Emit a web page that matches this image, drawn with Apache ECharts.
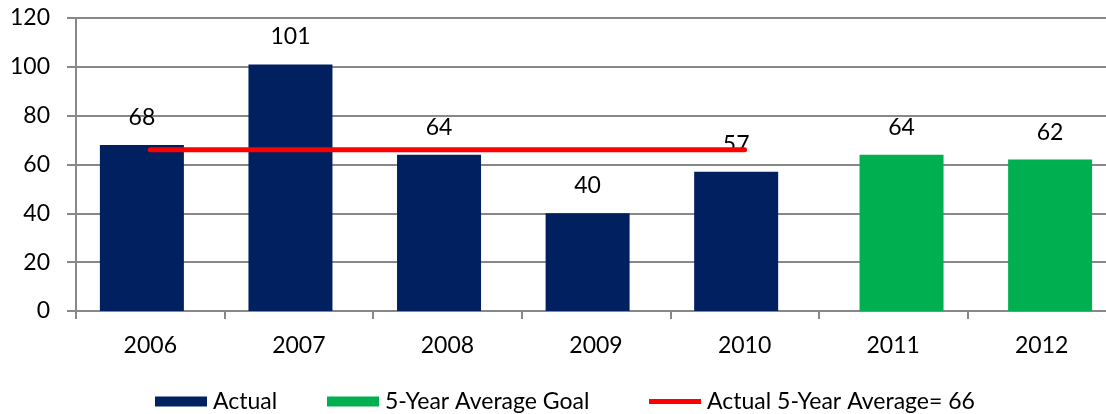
<!DOCTYPE html>
<html><head><meta charset="utf-8">
<script src="https://cdn.jsdelivr.net/npm/echarts@6/dist/echarts.min.js"></script>
<style>html,body{margin:0;padding:0;background:#fff}#c{width:1106px;height:414px}</style>
</head><body><div id="c"></div>
<script>
const categories = ['2006','2007','2008','2009','2010','2011','2012'];
const actualValues = [68, 101, 64, 40, 57, null, null];
const goalValues = [null, null, null, null, null, 64, 62];
const avgValues = [66, 66, 66, 66, 66, null, null];
const yTicks = {min: 0, max: 120, interval: 20};
const seriesNames = ['Actual', '5-Year Average Goal', 'Actual 5-Year Average= 66'];

const font = 'Lato';
const fs = 23;
const chart = echarts.init(document.getElementById('c'), null, {renderer: 'canvas'});
const labelCfg = {show: true, position: 'top', distance: 16, color: '#000', fontFamily: font, fontSize: fs};
const legendBase = {top: 390, padding: 0, itemWidth: 52, itemHeight: 10,
  textStyle: {fontFamily: font, fontSize: fs, color: '#000', padding: [0,0,0,1]}};
chart.setOption({
  animation: false,
  grid: {left: 76, right: -10, top: 18, bottom: 103, containLabel: false, outerBoundsMode: 'none'},
  legend: [
    Object.assign({left: 155, data: [{name: seriesNames[0], icon: 'rect'}]}, legendBase),
    Object.assign({left: 327, data: [{name: seriesNames[1], icon: 'rect'}]}, legendBase),
    Object.assign({left: 649, data: [{name: seriesNames[2], icon: 'path://M0,0 L54,0 L54,5 L0,5 Z'}]}, legendBase)
  ],
  xAxis: {
    type: 'category', data: categories, boundaryGap: true,
    axisLine: {lineStyle: {color: '#888', width: 2}},
    axisTick: {show: true, length: 8, lineStyle: {color: '#888', width: 2}},
    axisLabel: {fontFamily: font, fontSize: fs, color: '#000', margin: 23}
  },
  yAxis: {
    type: 'value', min: yTicks.min, max: yTicks.max, interval: yTicks.interval,
    axisLine: {show: true, lineStyle: {color: '#888', width: 2}},
    axisTick: {show: true, length: 9, lineStyle: {color: '#888', width: 2}},
    axisLabel: {fontFamily: font, fontSize: fs, color: '#000', margin: 26},
    splitLine: {show: true, lineStyle: {color: '#888', width: 2}}
  },
  series: [
    {name: seriesNames[0], type: 'bar', data: actualValues, barWidth: 84, barGap: '-80%',
     itemStyle: {color: '#002060'}, label: labelCfg},
    {name: seriesNames[1], type: 'bar', data: goalValues, barWidth: 84,
     itemStyle: {color: '#00B050'}, label: labelCfg},
    {name: seriesNames[2], type: 'line', data: avgValues, symbol: 'none', z: 5,
     lineStyle: {color: '#FF0000', width: 5, cap: 'round'}, itemStyle: {color: '#FF0000'}}
  ]
});
</script></body></html>
